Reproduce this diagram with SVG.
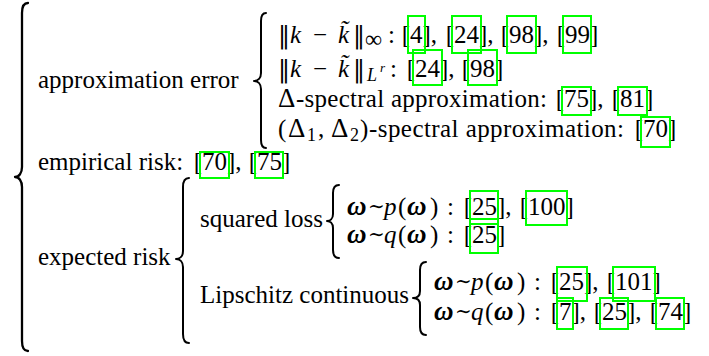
<svg xmlns="http://www.w3.org/2000/svg" width="709" height="356" viewBox="0 0 709 356">
<style>
.t{font-family:"Liberation Serif","DejaVu Serif",serif;font-size:25px;fill:#000}
.i{font-style:italic}
.bi{font-style:italic;font-weight:bold;font-size:27px}
.sub{font-size:18px}
.dl{font-size:27px}
.nrm{font-family:"DejaVu Serif",serif;font-size:24px}
.sim{font-family:"DejaVu Serif",serif;font-size:20px}
.box{fill:none;stroke:#00ff00;stroke-width:2}
.brace{fill:none;stroke:#000;stroke-width:2;stroke-linecap:round;stroke-linejoin:round}
</style>
<rect width="709" height="356" fill="#fff"/>
<g id="connectors">
<path class="brace" style="stroke-width:2.3" d="M28,3 C24,3 22,6 22,13 L22,167 C22,173 19,177 15,177 C19,177 22,181 22,187 L22,341 C22,348 24,351 28,351"/>
<path class="brace" d="M266,13 C263,13 261,16 261,21 L261,73 C261,78 258,81 254,81 C258,81 261,84 261,89 L261,140 C261,145 263,148 266,148"/>
<path class="brace" d="M189,178 C185,178 183,181 183,187 L183,251 C183,256 180,259 176,259 C180,259 183,262 183,267 L183,334 C183,340 185,343 189,343"/>
<path class="brace" d="M339,185 C335,185 333,188 333,193 L333,214 C333,219 330,221 327,221 C330,221 333,223 333,228 L333,250 C333,255 335,258 339,258"/>
<path class="brace" d="M426,262 C422,262 420,265 420,270 L420,291 C420,296 417,298 413,298 C417,298 420,300 420,305 L420,327 C420,332 422,335 426,335"/>
</g>
<g id="approximation-error">
<text class="t" x="38" y="88">approximation error</text>
</g>
<g id="sup-norm">
<text class="t" y="43"><tspan x="278" class="nrm">‖</tspan><tspan x="290" class="i">k</tspan><tspan x="313">−</tspan><tspan x="338" class="i">k̃</tspan><tspan x="353" class="nrm">‖</tspan><tspan x="365" y="47" font-size="24">∞</tspan><tspan x="388" y="43">:</tspan><tspan x="401.7">[4], </tspan><tspan x="445.7">[24], </tspan><tspan x="500.7">[98], </tspan><tspan x="556.7">[99]</tspan></text>
<rect class="box" x="408" y="16" width="17" height="37"/>
<rect class="box" x="452" y="16" width="29" height="37"/>
<rect class="box" x="507" y="16" width="29" height="37"/>
<rect class="box" x="563" y="16" width="28" height="37"/>
</g>
<g id="lr-norm">
<text class="t" y="77"><tspan x="278" class="nrm">‖</tspan><tspan x="290" class="i">k</tspan><tspan x="313">−</tspan><tspan x="338" class="i">k̃</tspan><tspan x="353" class="nrm">‖</tspan><tspan x="367" y="81" class="i sub">L</tspan><tspan x="380" y="72" class="i" font-size="13">r</tspan><tspan x="390" y="77">:</tspan><tspan x="406.7">[24], </tspan><tspan x="461.7">[98]</tspan></text>
<rect class="box" x="413" y="50" width="29" height="35"/>
<rect class="box" x="468" y="50" width="29" height="35"/>
</g>
<g id="delta-spectral">
<text class="t" y="107"><tspan x="278" class="dl">Δ</tspan><tspan x="296" textLength="251" lengthAdjust="spacing">-spectral approximation:</tspan><tspan x="555.7">[75], </tspan><tspan x="611.7">[81]</tspan></text>
<rect class="box" x="562" y="87" width="29" height="28"/>
<rect class="box" x="618" y="87" width="29" height="28"/>
</g>
<g id="delta12-spectral">
<text class="t" y="137"><tspan x="278">(</tspan><tspan x="288" class="dl">Δ</tspan><tspan x="307" y="141" class="sub">1</tspan><tspan x="318" y="137">,</tspan><tspan x="331" class="dl">Δ</tspan><tspan x="350" y="141" class="sub">2</tspan><tspan x="360" y="137">)</tspan><tspan x="369" textLength="255" lengthAdjust="spacing">-spectral approximation:</tspan><tspan x="634.7">[70]</tspan></text>
<rect class="box" x="641" y="117" width="29" height="30"/>
</g>
<g id="empirical-risk">
<text class="t" y="170"><tspan x="38">empirical risk:</tspan><tspan x="193.7">[70], </tspan><tspan x="248.7">[75]</tspan></text>
<rect class="box" x="200" y="152" width="29" height="26"/>
<rect class="box" x="255" y="152" width="28" height="26"/>
</g>
<g id="expected-risk">
<text class="t" x="38" y="265">expected risk</text>
</g>
<g id="squared-loss">
<text class="t" x="200" y="227">squared loss</text>
</g>
<g id="sq-p">
<text class="t" y="215"><tspan x="347" class="bi">ω</tspan><tspan x="368" y="213" class="sim">∼</tspan><tspan x="384" y="215" class="i">p</tspan><tspan x="398">(</tspan><tspan x="407" class="bi">ω</tspan><tspan x="430">)</tspan><tspan x="447">:</tspan><tspan x="463.7">[25], </tspan><tspan x="519.7">[100]</tspan></text>
<rect class="box" x="470" y="191" width="28" height="33"/>
<rect class="box" x="526" y="191" width="41" height="34"/>
</g>
<g id="sq-q">
<text class="t" y="243"><tspan x="347" class="bi">ω</tspan><tspan x="368" y="241" class="sim">∼</tspan><tspan x="384" y="243" class="i">q</tspan><tspan x="398">(</tspan><tspan x="407" class="bi">ω</tspan><tspan x="430">)</tspan><tspan x="447">:</tspan><tspan x="463.7">[25]</tspan></text>
<rect class="box" x="470" y="219" width="28" height="34"/>
</g>
<g id="lipschitz">
<text class="t" x="200" y="303">Lipschitz continuous</text>
</g>
<g id="lip-p">
<text class="t" y="290"><tspan x="434" class="bi">ω</tspan><tspan x="455" y="288" class="sim">∼</tspan><tspan x="471" y="290" class="i">p</tspan><tspan x="485">(</tspan><tspan x="494" class="bi">ω</tspan><tspan x="517">)</tspan><tspan x="534">:</tspan><tspan x="550.7">[25], </tspan><tspan x="606.7">[101]</tspan></text>
<rect class="box" x="557" y="267" width="30" height="34"/>
<rect class="box" x="613" y="267" width="42" height="34"/>
</g>
<g id="lip-q">
<text class="t" y="320"><tspan x="434" class="bi">ω</tspan><tspan x="455" y="318" class="sim">∼</tspan><tspan x="471" y="320" class="i">q</tspan><tspan x="485">(</tspan><tspan x="494" class="bi">ω</tspan><tspan x="517">)</tspan><tspan x="534">:</tspan><tspan x="550.7">[7], </tspan><tspan x="593.7">[25], </tspan><tspan x="649.7">[74]</tspan></text>
<rect class="box" x="557" y="298" width="16" height="31"/>
<rect class="box" x="600" y="298" width="28" height="31"/>
<rect class="box" x="656" y="298" width="28" height="31"/>
</g>
</svg>
